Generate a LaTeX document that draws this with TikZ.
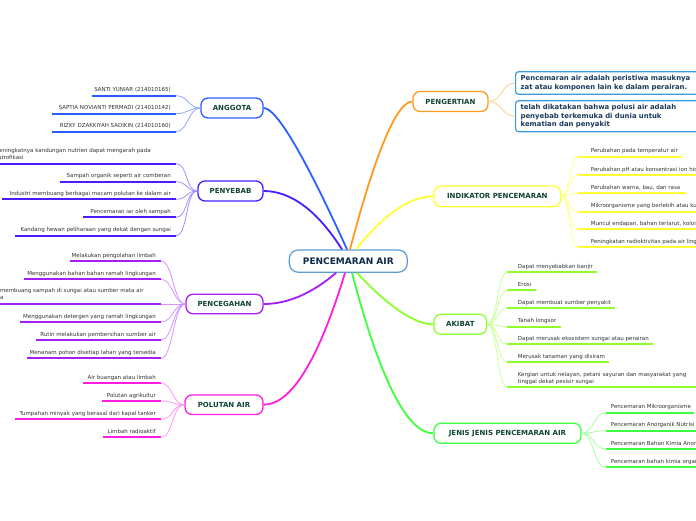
\documentclass[tikz,border=0pt]{standalone}
\usepackage{fontspec}
\setmainfont{DejaVu Sans}
\definecolor{angC}{HTML}{2B5EFF}\definecolor{angL}{HTML}{8FA8FF}
\definecolor{pnyC}{HTML}{4A1CFF}\definecolor{pnyL}{HTML}{A390FF}
\definecolor{cegC}{HTML}{A41EF5}\definecolor{cegL}{HTML}{D494FF}
\definecolor{polC}{HTML}{FF1EE0}\definecolor{polL}{HTML}{FF96F0}
\definecolor{pngC}{HTML}{FF9A1F}\definecolor{pngL}{HTML}{FFCC88}
\definecolor{indC}{HTML}{FFFF33}\definecolor{indL}{HTML}{FFFF88}
\definecolor{akiC}{HTML}{8CFF2A}\definecolor{akiL}{HTML}{C8FF96}
\definecolor{jenC}{HTML}{3DFF3D}\definecolor{jenL}{HTML}{A4FFA4}
\definecolor{ctrC}{HTML}{5B9BD5}\definecolor{ctrT}{HTML}{0E2A47}
\definecolor{brT}{HTML}{114433}\definecolor{leafT}{HTML}{333333}
\definecolor{boxC}{HTML}{3A9AE0}\definecolor{boxT}{HTML}{1A3A5C}
\tikzset{
  leaf/.style={inner sep=0pt, text=leafT, font=\fontsize{5.5}{7.2}\selectfont},
  branch/.style={draw, fill=white, rounded corners=7pt, line width=1.3pt, inner sep=0pt,
    text=brT, font=\bfseries\fontsize{7}{8}\selectfont},
  pbox/.style={draw=boxC, fill=white, rounded corners=3pt, line width=1.2pt, inner xsep=5pt,
    inner ysep=0pt, text=boxT, align=left, font=\bfseries\fontsize{6.9}{8.4}\selectfont},
  mainl/.style={line width=1.8pt},
  lc/.style={line width=0.8pt},
  lu/.style={line width=1.8pt},
  angm/.style={mainl, draw=angC}, angc/.style={lc, draw=angL}, angu/.style={lu, draw=angC},
  pnym/.style={mainl, draw=pnyC}, pnyc/.style={lc, draw=pnyL}, pnyu/.style={lu, draw=pnyC},
  cegm/.style={mainl, draw=cegC}, cegc/.style={lc, draw=cegL}, cegu/.style={lu, draw=cegC},
  polm/.style={mainl, draw=polC}, polc/.style={lc, draw=polL}, polu/.style={lu, draw=polC},
  pngm/.style={mainl, draw=pngC}, pngc/.style={lc, draw=pngL},
  indm/.style={mainl, draw=indC}, indc/.style={lc, draw=indL}, indu/.style={lu, draw=indC},
  akim/.style={mainl, draw=akiC}, akic/.style={lc, draw=akiL}, akiu/.style={lu, draw=akiC},
  jenm/.style={mainl, draw=jenC}, jenc/.style={lc, draw=jenL}, jenu/.style={lu, draw=jenC},
}
% left leaf: name, parent, style, xs, xe, y, text
\newcommand\LLeaf[7]{%
  \coordinate (#1i) at (#5,#6);
  \coordinate (#1o) at (#4,#6);
  \draw[#3c] (#2.west) .. controls +(-12,0) and +(12,0) .. (#1i);
  \draw[#3u] (#1o) -- (#1i);
  \node[leaf, anchor=base east] (#1) at ({#5-5},{#6-4}) {#7};
}
% left multi-line leaf: name, parent, style, xs, xe, y, textleft x, south y, text
\newcommand\LLeafM[9]{%
  \coordinate (#1i) at (#5,#6);
  \coordinate (#1o) at (#4,#6);
  \draw[#3c] (#2.west) .. controls +(-12,0) and +(12,0) .. (#1i);
  \draw[#3u] (#1o) -- (#1i);
  \node[leaf, anchor=south west, align=left] (#1) at (#7,#8) {#9};
}
% right leaf: name, parent, style, xs, xe, y, text x, ctrl, text
\newcommand\RLeaf[9]{%
  \coordinate (#1i) at (#4,#6);
  \coordinate (#1o) at (#5,#6);
  \draw[#3c] (#2.east) .. controls +(#8,0) and +(-#8,0) .. (#1i);
  \draw[#3u] (#1i) -- (#1o);
  \node[leaf, anchor=base west, align=left] (#1) at (#7,{#6-4}) {#9};
}
\begin{document}
\begin{tikzpicture}[x=1pt,y=-1pt]
\useasboundingbox (0,0) rectangle (696,520);
\clip (0,0) rectangle (696,520);
\fill[white] (0,0) rectangle (696,520);

% center and branch nodes
\node[draw=ctrC, fill=white, line width=1.2pt, rounded corners=9pt, inner sep=0pt,
  minimum width=118pt, minimum height=22.3pt, text=ctrT,
  font=\bfseries\fontsize{9}{10}\selectfont] (C) at (348.3,261.1) {PENCEMARAN AIR};
\node[branch, draw=angC, minimum width=62pt, minimum height=20pt] (ANG) at (232,108) {ANGGOTA};
\node[branch, draw=pnyC, minimum width=65pt, minimum height=20pt] (PNY) at (230.5,191) {PENYEBAB};
\node[branch, draw=cegC, minimum width=77pt, minimum height=19.5pt] (CEG) at (224.5,304) {PENCEGAHAN};
\node[branch, draw=polC, minimum width=78pt, minimum height=19.5pt] (POL) at (224,404.7) {POLUTAN AIR};
\node[branch, draw=pngC, minimum width=75pt, minimum height=20pt] (PNG) at (450.5,101.5) {PENGERTIAN};
\node[branch, draw=indC, minimum width=126.7pt, minimum height=20.7pt] (IND) at (497.3,196.3) {INDIKATOR PENCEMARAN};
\node[branch, draw=akiC, minimum width=52.7pt, minimum height=20pt] (AKI) at (460.3,324.3) {AKIBAT};
\node[branch, draw=jenC, minimum width=147pt, minimum height=20pt] (JEN) at (507.5,433.3) {JENIS JENIS PENCEMARAN AIR};

% main connectors
\draw[angm] ([xshift=-1.3pt]C.north) .. controls (304.3,155.3) and (276.3,108) .. (ANG.east);
\draw[pnym] ([xshift=-6.3pt]C.north) .. controls (317.3,210.7) and (291,191) .. (PNY.east);
\draw[cegm] ([xshift=-12.3pt]C.south) .. controls (312,293.4) and (287.7,304) .. (CEG.east);
\draw[polm] ([xshift=-3.3pt]C.south) .. controls (318.3,360.6) and (291,404.7) .. (POL.east);
\draw[pngm] ([xshift=1.7pt]C.north) .. controls (376,151) and (397,101.5) .. (PNG.west);
\draw[indm] ([xshift=7.7pt]C.north) .. controls (384,214.2) and (410,196.3) .. (IND.west);
\draw[akim] ([xshift=8.7pt]C.south) .. controls (389,307) and (414.7,324.3) .. (AKI.west);
\draw[jenm] ([xshift=3.7pt]C.south) .. controls (380,379.6) and (407.3,433.3) .. (JEN.west);

% ANGGOTA
\LLeaf{a1}{ANG}{ang}{92}{176}{95.7}{SANTI YUNIAR (214010165)}
\LLeaf{a2}{ANG}{ang}{52}{176}{113.7}{SAPTIA NOVIANTI PERMADI (214010142)}
\LLeaf{a3}{ANG}{ang}{52}{176}{131.7}{RIZKY DZAKKIYAH SADIKIN (214010160)}

% PENYEBAB
\LLeafM{b1}{PNY}{pny}{-2}{176}{163.7}{-5.5}{159.8}{Meningkatnya kandungan nutrien dapat mengarah pada\\eutrofikasi}
\LLeaf{b2}{PNY}{pny}{60}{176}{181.7}{Sampah organik seperti air comberan}
\LLeaf{b3}{PNY}{pny}{2}{176}{199.3}{Industri membuang berbagai macam polutan ke dalam air}
\LLeaf{b4}{PNY}{pny}{83}{176}{217.3}{Pencemaran iar oleh sampah}
\LLeaf{b5}{PNY}{pny}{15}{176}{235.7}{Kandang hewan peliharaan yang dekat dengan sungai}

% PENCEGAHAN
\LLeaf{c1}{CEG}{ceg}{70}{161}{261}{Melakukan pengolahan limbah}
\LLeaf{c2}{CEG}{ceg}{24}{161}{279.3}{Menggunakan bahan bahan ramah lingkungan}
\LLeafM{c3}{CEG}{ceg}{-2}{161}{304}{-16.7}{301.3}{Tidak membuang sampah di sungai atau sumber mata air\\lainnya}
\LLeaf{c4}{CEG}{ceg}{20}{161}{322}{Menggunakan detergen yang ramah lingkungan}
\LLeaf{c5}{CEG}{ceg}{36}{161}{340}{Rutin melakukan pembersihan sumber air}
\LLeaf{c6}{CEG}{ceg}{27}{161}{358.3}{Menanam pohon disetiap lahan yang tersedia}

% POLUTAN AIR
\LLeaf{d1}{POL}{pol}{83}{161}{383.3}{Air buangan atau limbah}
\LLeaf{d2}{POL}{pol}{102}{161}{401}{Polutan agrikultur}
\LLeaf{d3}{POL}{pol}{15}{161}{419.3}{Tumpahan minyak yang berasal dari kapal tanker}
\LLeaf{d4}{POL}{pol}{103}{161}{437.3}{Limbah radioaktif}

% PENGERTIAN
\node[pbox, anchor=west, minimum height=22.6pt, text width=175pt] (e1) at (515,83)
  {Pencemaran air adalah peristiwa masuknya\\zat atau komponen lain ke dalam perairan.};
\node[pbox, anchor=west, minimum height=31pt, text width=175pt] (e2) at (515,116.2)
  {telah dikatakan bahwa polusi air adalah\\penyebab terkemuka di dunia untuk\\kematian dan penyakit};
\draw[pngc] (PNG.east) .. controls +(13.5,0) and +(-13.5,0) .. (e1.west);
\draw[pngc] (PNG.east) .. controls +(13.5,0) and +(-13.5,0) .. (e2.west);

% INDIKATOR
\RLeaf{f1}{IND}{ind}{578}{682}{156.7}{590.7}{8.5}{Perubahan pada temperatur air}
\RLeaf{f2}{IND}{ind}{578}{700}{175}{590.7}{8.5}{Perubahan pH atau konsentrasi ion hidrogen}
\RLeaf{f3}{IND}{ind}{578}{685.7}{193.3}{590.7}{8.5}{Perubahan warna, bau, dan rasa}
\RLeaf{f4}{IND}{ind}{578}{700}{211.7}{590.7}{8.5}{Mikroorganisme yang berlebih atau kurang}
\RLeaf{f5}{IND}{ind}{578}{700}{229.3}{590.7}{8.5}{Muncul endapan, bahan terlarut, koloidal}
\RLeaf{f6}{IND}{ind}{578}{700}{247.3}{590.7}{8.5}{Peningkatan radioktivitas pada air lingkungan}

% AKIBAT
\RLeaf{g1}{AKI}{aki}{507.3}{596.7}{272.3}{517.7}{10}{Dapat menyebabkan banjir}
\RLeaf{g2}{AKI}{aki}{507.3}{535.7}{290.3}{517.7}{10}{Erosi}
\RLeaf{g3}{AKI}{aki}{507.3}{615}{308.3}{517.7}{10}{Dapat membuat sumber penyakit}
\RLeaf{g4}{AKI}{aki}{507.3}{560.7}{326.7}{517.7}{10}{Tanah longsor}
\RLeaf{g5}{AKI}{aki}{507.3}{652.7}{344.3}{517.7}{10}{Dapat merusak ekosistem sungai atau perairan}
\RLeaf{g6}{AKI}{aki}{507.3}{609}{362.3}{517.7}{10}{Merusak tanaman yang disiram}
\coordinate (g7i) at (507.3,387.3);
\coordinate (g7o) at (700,387.3);
\draw[akic] (AKI.east) .. controls +(10,0) and +(-10,0) .. (g7i);
\draw[akiu] (g7i) -- (g7o);
\node[leaf, anchor=south west, align=left] (g7) at (517.7,384.6)
  {Kergian untuk nelayan, petani sayuran dan masyarakat yang\\tinggal dekat pesisir sungai};

% JENIS JENIS
\RLeaf{h1}{JEN}{jen}{605.7}{694}{412.7}{610.7}{12.5}{Pencemaran Mikroorganisme}
\RLeaf{h2}{JEN}{jen}{605.7}{700}{430.7}{610.7}{12.5}{Pencemaran Anorganik Nutrisi Tanaman}
\RLeaf{h3}{JEN}{jen}{605.7}{700}{449}{610.7}{12.5}{Pencemaran Bahan Kimia Anorganik}
\RLeaf{h4}{JEN}{jen}{605.7}{700}{467.3}{610.7}{12.5}{Pencemaran bahan kimia organik}
\end{tikzpicture}
\end{document}
